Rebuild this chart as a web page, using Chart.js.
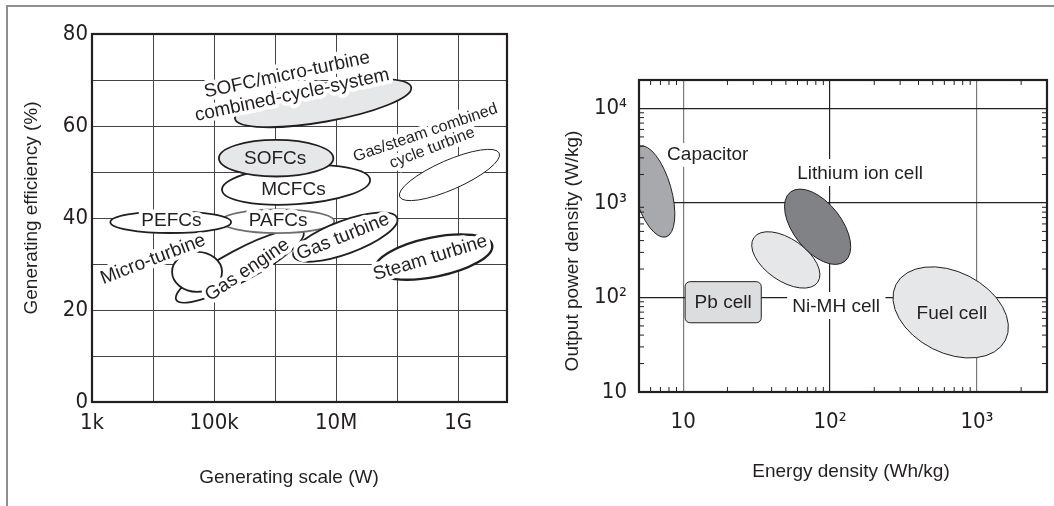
<!DOCTYPE html>
<html>
<head>
<meta charset="utf-8">
<script src="https://cdn.jsdelivr.net/npm/chart.js@4/dist/chart.umd.min.js"></script>
<style>
  html, body { margin: 0; padding: 0; background: #fff; }
  #wrap { position: relative; width: 1054px; height: 506px; overflow: hidden; }
  #frame { position: absolute; left: 6px; top: 5px; width: 1200px; height: 600px;
           border-top: 2px solid #8f8f8f; border-left: 2px solid #8f8f8f; }
  #left { position: absolute; left: 0; top: 0; width: 530px; height: 506px; }
  #right { position: absolute; left: 530px; top: 0; width: 524px; height: 506px; }
</style>
</head>
<body>
<div id="wrap">
  <div id="frame"></div>
  <div id="left"><canvas id="genChart"></canvas></div>
  <div id="right"><canvas id="storeChart"></canvas></div>
</div>
<script>
// ---- left panel: generating efficiency vs scale ----
const scaleTicks = [1e3, 1e4, 1e5, 1e6, 1e7, 1e8, 1e9];
const scaleTickLabels = ['1k', '', '100k', '', '10M', '', '1G'];

// each region is an ellipse whose long axis runs from (scaleFrom, effFrom) to (scaleTo, effTo)
const genTech   = ['SOFC/micro-turbine', 'MCFCs', 'SOFCs', 'Gas engine', 'Micro-turbine', 'PAFCs', 'PEFCs', 'Gas turbine', 'Steam turbine', 'Gas/steam combined'];
const scaleFrom = [2.2e5, 1.35e5, 1.2e5, 2.4e4, 2.05e4, 1.3e5, 2.0e3, 2.0e6, 4.4e7, 1.1e8];
const scaleTo   = [1.7e8, 3.6e7, 9.0e6, 2.9e6, 1.35e5, 9.3e6, 1.9e5, 1.0e8, 3.6e9, 4.7e9];
const effFrom   = [61.6, 46.1, 53.0, 22.2, 28.3, 39.3, 39.1, 31.7, 28.9, 44.6];
const effTo     = [68.4, 48.3, 53.0, 37.0, 28.3, 39.3, 39.1, 40.0, 34.1, 54.1];
const genWidth  = [0.21, 0.26, 0.32, 0.22, 0.80, 0.21, 0.18, 0.30, 0.33, 0.27]; // minor / major

const genLabels = ['SOFC/micro-turbine', 'combined-cycle-system', 'SOFCs', 'MCFCs', 'PEFCs', 'PAFCs',
                   'Micro-turbine', 'Gas engine', 'Gas turbine', 'Steam turbine', 'Gas/steam combined', 'cycle turbine'];
const genLabelX = [1.57e6, 1.9e6, 1.0e6, 2.0e6, 2.0e4, 1.12e6, 1.0e4, 3.5e5, 1.3e7, 3.5e8, 2.9e8, 3.75e8];
const genLabelY = [71.1, 66.7, 52.8, 46.1, 39.3, 39.3, 31.0, 28.7, 35.9, 31.3, 58.5, 55.2];
const genLabelTilt = [-12, -12, 0, 0, 0, 0, -21, -34, -22, -17, -19, -21];

// ---- right panel: output power density vs energy density ----
const energyTicks = [10, 100, 1000];
const energyTickLabels = ['10', '10\u00b2', '10\u00b3'];
const powerTicks = [10, 100, 1000, 10000];
const powerTickLabels = ['10', '10\u00b2', '10\u00b3', '10\u2074'];

const storeTech   = ['Capacitor', 'Ni-MH cell', 'Lithium ion cell', 'Fuel cell'];
const energyFrom  = [5.07, 30.3, 53.7, 281];
const energyTo    = [7.62, 82.4, 126, 1563];
const powerFrom   = [3990, 430, 1303, 137];
const powerTo     = [437, 145, 241, 35.3];
const storeWidth  = [0.39, 0.54, 0.545, 0.66];
// Pb cell is a box: energy range, power range
const pbEnergy = [10.3, 34];
const pbPower  = [54, 147];

const storeLabels = ['Capacitor', 'Lithium ion cell', 'Pb cell', 'Ni-MH cell', 'Fuel cell'];
const storeLabelX = [14.7, 160, 18.7, 110, 676];
const storeLabelY = [3260, 2020, 89, 79, 67];

// ---- styles ----
const ink = '#231f20';
const textFont = '"Liberation Sans", Arial, Helvetica, sans-serif';
const tickFont = { family: '"Liberation Sans Narrow", "DejaVu Sans Condensed", sans-serif', size: 22 };
const fills = {
  'SOFC/micro-turbine': '#e6e7e8', 'SOFCs': '#e6e7e8',
  'Capacitor': '#a7a9ac', 'Ni-MH cell': '#e6e7e8', 'Lithium ion cell': '#808285',
  'Fuel cell': '#e6e7e8', 'Pb cell': '#dcddde'
};
const noHalo = ['SOFCs', 'Pb cell', 'Fuel cell'];

function ellipses(names, x1, x2, y1, y2, w) {
  return names.map((n, i) => ({ name: n, x1: x1[i], x2: x2[i], y1: y1[i], y2: y2[i], ratio: w[i] }));
}
function labelsOf(texts, xs, ys, tilt) {
  return texts.map((t, i) => ({ text: t, x: xs[i], y: ys[i], tilt: tilt ? tilt[i] : 0 }));
}

const blobPlugin = {
  id: 'blobs',
  afterDatasetsDraw(chart, args, opts) {
    const { ctx, chartArea: ca, scales: { x, y } } = chart;
    ctx.save();
    ctx.beginPath();
    ctx.rect(ca.left, ca.top, ca.right - ca.left, ca.bottom - ca.top);
    ctx.clip();
    opts.shapes.forEach(s => {
      const px1 = x.getPixelForValue(s.x1), px2 = x.getPixelForValue(s.x2);
      const py1 = y.getPixelForValue(s.y1), py2 = y.getPixelForValue(s.y2);
      ctx.beginPath();
      if (s.box) {
        const l = Math.min(px1, px2), r = Math.max(px1, px2), t = Math.min(py1, py2), b = Math.max(py1, py2), rad = 5;
        ctx.moveTo(l + rad, t);
        ctx.arcTo(r, t, r, b, rad); ctx.arcTo(r, b, l, b, rad);
        ctx.arcTo(l, b, l, t, rad); ctx.arcTo(l, t, r, t, rad);
        ctx.closePath();
      } else {
        const a = Math.hypot(px2 - px1, py2 - py1) / 2;
        ctx.ellipse((px1 + px2) / 2, (py1 + py2) / 2, a, a * s.ratio, Math.atan2(py2 - py1, px2 - px1), 0, Math.PI * 2);
      }
      ctx.fillStyle = fills[s.name] || '#fff';
      ctx.fill();
      ctx.lineWidth = s.name === 'Steam turbine' ? 2.4 : (opts.thin || s.name.startsWith('Gas/steam')) ? 1 : 1.8;
      ctx.strokeStyle = s.name === 'PAFCs' ? '#6d6e71' : ink;
      ctx.stroke();
    });
    ctx.restore();

    ctx.save();
    ctx.textAlign = 'center';
    ctx.textBaseline = 'middle';
    opts.labels.forEach(l => {
      const size = (l.text === 'Gas/steam combined' || l.text === 'cycle turbine') ? 16 : 19;
      ctx.save();
      ctx.font = size + 'px ' + textFont;
      ctx.translate(x.getPixelForValue(l.x), y.getPixelForValue(l.y));
      ctx.rotate(l.tilt * Math.PI / 180);
      if (!noHalo.includes(l.text)) {
        ctx.strokeStyle = '#fff';
        ctx.lineWidth = opts.halo;
        ctx.lineJoin = 'round';
        ctx.strokeText(l.text, 0, 0);
      }
      ctx.fillStyle = ink;
      ctx.fillText(l.text, 0, 0);
      ctx.restore();
    });
    ctx.restore();
  },
  afterDraw(chart, args, opts) {
    const { ctx, chartArea: ca, scales: { x, y } } = chart;
    ctx.save();
    ctx.strokeStyle = ink;
    if (opts.minor) {
      ctx.lineWidth = 1;
      ctx.beginPath();
      for (let n = 0; n < 5; n++) {
        for (let k = 2; k < 10; k++) {
          const v = k * Math.pow(10, n);
          if (v > x.min && v < x.max) {
            const px = x.getPixelForValue(v);
            ctx.moveTo(px, ca.bottom); ctx.lineTo(px, ca.bottom - 5);
            ctx.moveTo(px, ca.top); ctx.lineTo(px, ca.top + 5);
          }
          if (v > y.min && v < y.max) {
            const py = y.getPixelForValue(v);
            ctx.moveTo(ca.left, py); ctx.lineTo(ca.left + 5, py);
            ctx.moveTo(ca.right, py); ctx.lineTo(ca.right - 5, py);
          }
        }
      }
      ctx.stroke();
    }
    ctx.lineWidth = 2.2;
    ctx.strokeRect(ca.left, ca.top, ca.right - ca.left, ca.bottom - ca.top);

    // axis titles
    ctx.fillStyle = ink;
    ctx.font = '19px ' + textFont;
    ctx.textAlign = 'center';
    ctx.textBaseline = 'middle';
    ctx.fillText(opts.xTitle, opts.xTitlePos[0], opts.xTitlePos[1]);
    ctx.translate(opts.yTitlePos[0], opts.yTitlePos[1]);
    ctx.rotate(-Math.PI / 2);
    ctx.fillText(opts.yTitle, 0, 0);
    ctx.restore();
  }
};

new Chart(document.getElementById('genChart'), {
  type: 'scatter',
  data: { datasets: [] },
  options: {
    responsive: true, maintainAspectRatio: false, animation: false,
    layout: { padding: { top: 34, right: 23, left: 0, bottom: 0 } },
    plugins: {
      legend: { display: false }, tooltip: { enabled: false },
      blobs: {
        halo: 8,
        shapes: ellipses(genTech, scaleFrom, scaleTo, effFrom, effTo, genWidth),
        labels: labelsOf(genLabels, genLabelX, genLabelY, genLabelTilt),
        xTitle: 'Generating scale (W)', xTitlePos: [289, 478],
        yTitle: 'Generating efficiency (%)', yTitlePos: [32, 208]
      }
    },
    scales: {
      x: {
        type: 'logarithmic', min: 1e3, max: 6.3e9,
        afterBuildTicks: s => { s.ticks = scaleTicks.map(v => ({ value: v })); },
        afterFit: s => { s.height = 104; },
        ticks: { callback: v => scaleTickLabels[scaleTicks.indexOf(v)] || '', autoSkip: false, maxRotation: 0,
                 padding: 8, color: ink, font: tickFont },
        grid: { color: '#444', lineWidth: 1, drawTicks: false },
        border: { color: ink, width: 2 }
      },
      y: {
        min: 0, max: 80,
        afterFit: s => { s.width = 92; },
        ticks: { stepSize: 10, callback: v => v % 20 === 0 ? String(v) : '', padding: 4, color: ink, font: tickFont },
        grid: { color: '#444', lineWidth: 1, drawTicks: false },
        border: { color: ink, width: 2 }
      }
    }
  },
  plugins: [blobPlugin]
});

const storeShapes = ellipses(storeTech, energyFrom, energyTo, powerFrom, powerTo, storeWidth);
storeShapes.unshift({ name: 'Pb cell', box: true, x1: pbEnergy[0], x2: pbEnergy[1], y1: pbPower[0], y2: pbPower[1] });

new Chart(document.getElementById('storeChart'), {
  type: 'scatter',
  data: { datasets: [] },
  options: {
    responsive: true, maintainAspectRatio: false, animation: false,
    layout: { padding: { top: 80, right: 7, left: 0, bottom: 0 } },
    plugins: {
      legend: { display: false }, tooltip: { enabled: false },
      blobs: {
        thin: true, minor: true, halo: 14,
        shapes: storeShapes,
        labels: labelsOf(storeLabels, storeLabelX, storeLabelY),
        xTitle: 'Energy density (Wh/kg)', xTitlePos: [321, 472],
        yTitle: 'Output power density (W/kg)', yTitlePos: [43, 251]
      }
    },
    scales: {
      x: {
        type: 'logarithmic', min: 5, max: 3000,
        afterBuildTicks: s => { s.ticks = energyTicks.map(v => ({ value: v })); },
        afterFit: s => { s.height = 114; },
        ticks: { callback: v => energyTickLabels[energyTicks.indexOf(v)] || '', autoSkip: false, maxRotation: 0,
                 padding: 17, color: ink, font: tickFont },
        grid: { color: c => c.tick && c.tick.value === 100 ? '#222' : '#7a7a7a', lineWidth: 1.2, drawTicks: false },
        border: { color: ink, width: 2 }
      },
      y: {
        type: 'logarithmic', min: 10, max: 2e4,
        afterBuildTicks: s => { s.ticks = powerTicks.map(v => ({ value: v })); },
        afterFit: s => { s.width = 109; },
        ticks: { callback: v => powerTickLabels[powerTicks.indexOf(v)] || '', autoSkip: false,
                 padding: 12, color: ink, font: tickFont },
        grid: { color: '#222', lineWidth: 1.2, drawTicks: false },
        border: { color: ink, width: 2 }
      }
    }
  },
  plugins: [blobPlugin]
});
</script>
</body>
</html>
